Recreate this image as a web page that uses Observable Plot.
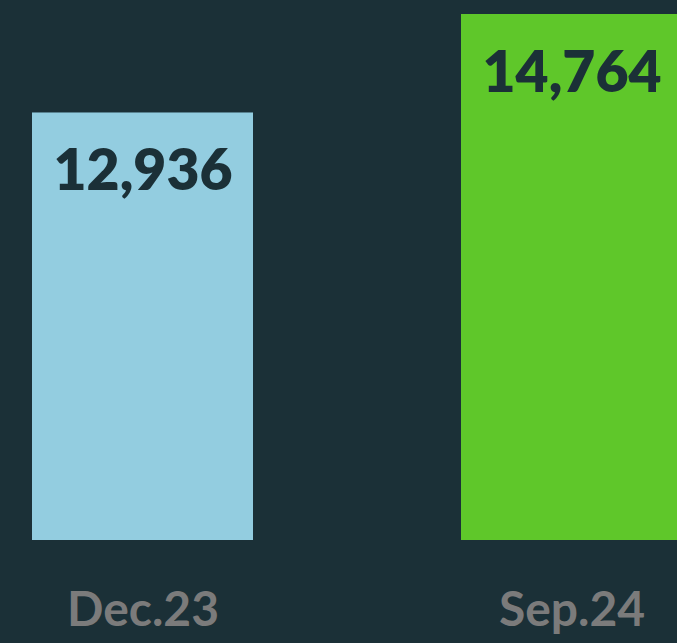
<!DOCTYPE html>
<html>
<head>
<meta charset="utf-8">
<script src="https://cdn.jsdelivr.net/npm/d3@7"></script>
<script src="https://cdn.jsdelivr.net/npm/@observablehq/plot@0.6"></script>
<style>
  html, body { margin: 0; padding: 0; background: #1b3037; overflow: hidden; }
  #chart svg { display: block; overflow: hidden; }
</style>
</head>
<body>
<div id="chart"></div>
<script>
const periods = ["Dec.23", "Sep.24"];
const values = [12936, 14764];
const barColors = ["#93cde0", "#5fc72a"];
const yBase = 5000;

const data = periods.map((p, i) => ({period: p, value: values[i], color: barColors[i]}));
const fmt = d3.format(",");

const chart = Plot.plot({
  width: 677,
  height: 643,
  marginTop: 14,
  marginBottom: 103,
  marginLeft: 0,
  marginRight: 0,
  style: {background: "#1b3037", fontFamily: "Lato, 'Open Sans', sans-serif"},
  x: {domain: periods, range: [0, 714], paddingInner: 0.485, paddingOuter: 0.0746, axis: null},
  y: {domain: [yBase, d3.max(values)], clamp: true, axis: null},
  marks: [
    Plot.barY(data, {x: "period", y1: yBase, y2: "value", fill: "color"}),
    Plot.text(data, {x: "period", y: "value", text: d => fmt(d.value), lineAnchor: "top", dy: 37,
      fontSize: 57, fontWeight: 800, fill: "#1b3037"}),
    Plot.axisX({tickSize: 0, tickPadding: 51, fontSize: 48, fontWeight: "bold", color: "#7b7b7b", label: null})
  ]
});
document.getElementById("chart").append(chart);
</script>
</body>
</html>
